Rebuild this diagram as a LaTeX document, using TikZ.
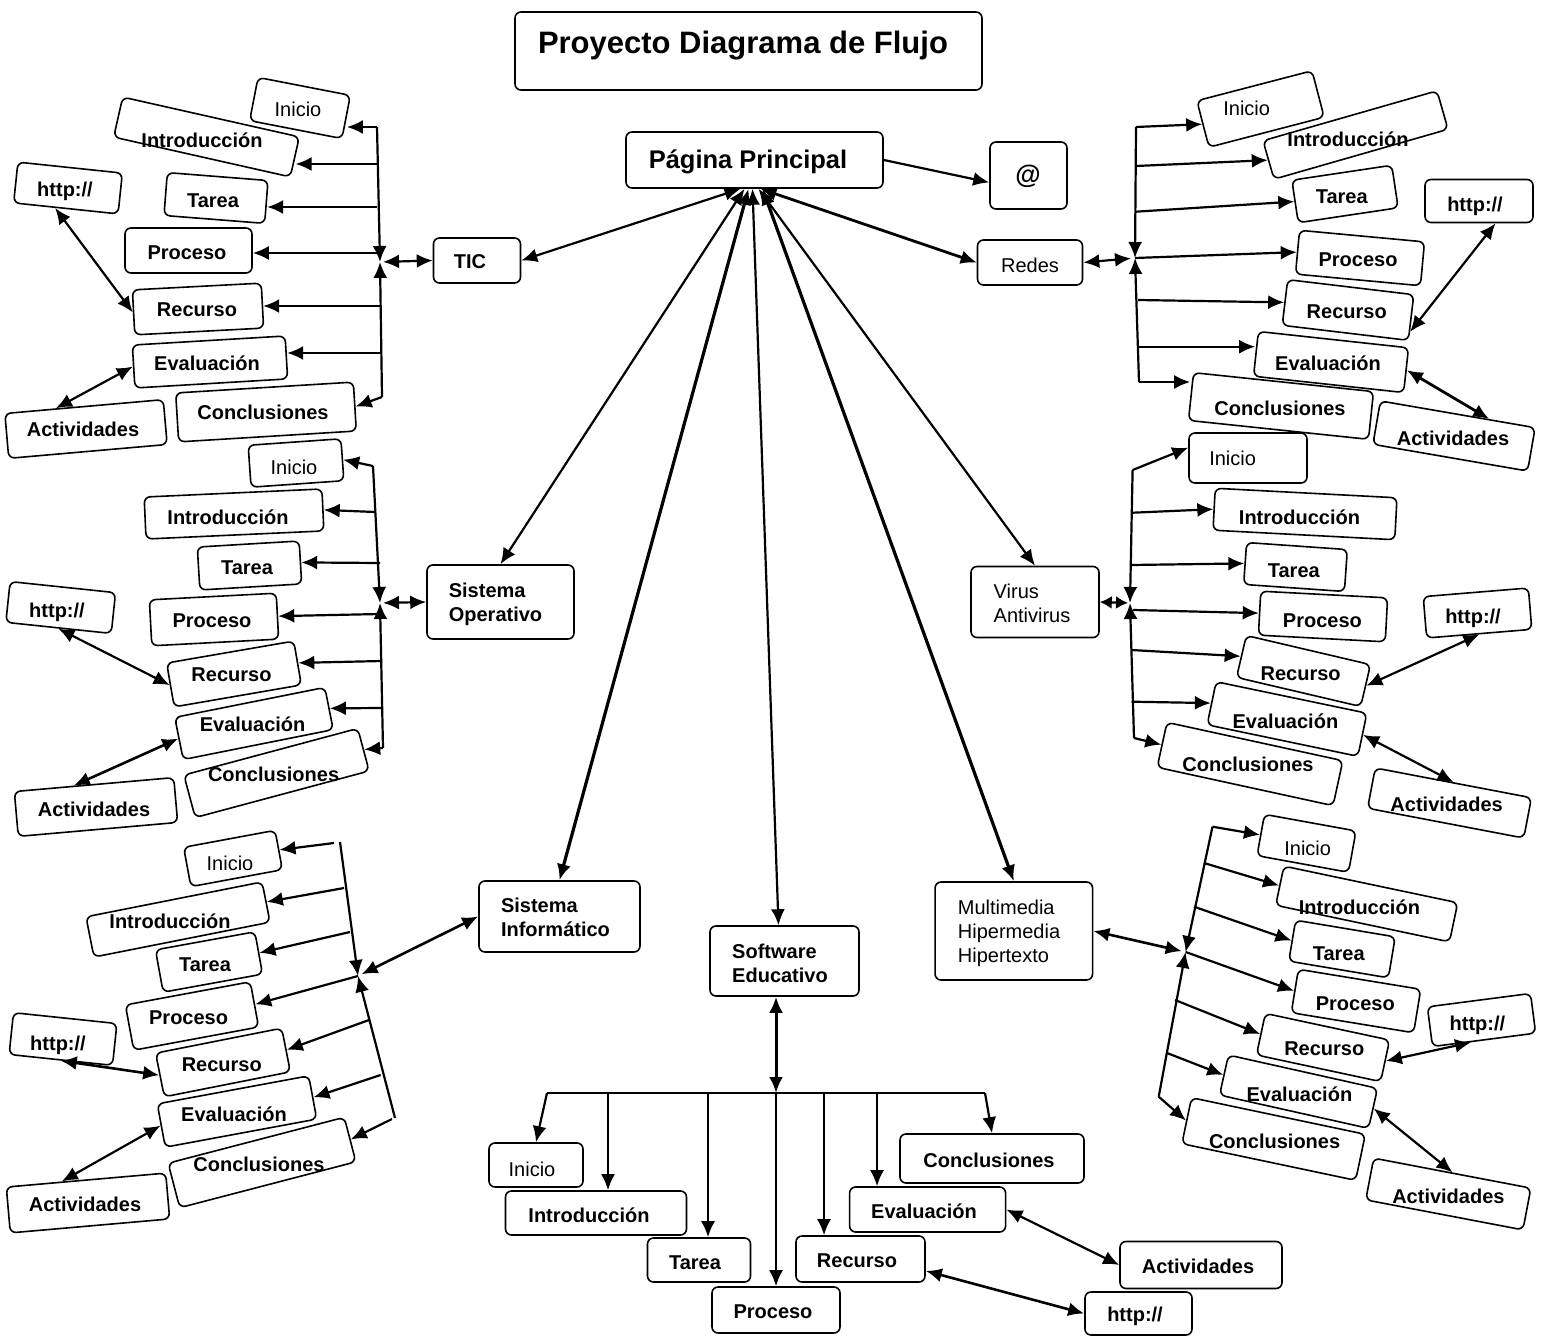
\documentclass[tikz,border=0pt]{standalone}
\usepackage{fontspec}
\setmainfont{Liberation Sans}
\usetikzlibrary{arrows.meta,calc}
\tikzset{
 bxs/.style={draw, line width=1.6pt, rounded corners=6pt, inner sep=0pt},
 lbl/.style={font=\bfseries\fontsize{20}{24}\selectfont, anchor=mid, inner sep=0pt, yshift=-4pt},
 lblr/.style={font=\fontsize{20}{24}\selectfont, anchor=mid, inner sep=0pt, yshift=-4pt},
 mlt/.style={font=\bfseries\fontsize{20}{24}\selectfont, anchor=center, align=left, inner sep=0pt},
 mltr/.style={font=\fontsize{20}{24}\selectfont, anchor=center, align=left, inner sep=0pt},
 arr/.style={-{Latex[length=16pt,width=14pt]}, line width=2.2pt},
 darr/.style={{Latex[length=16pt,width=14pt]}-{Latex[length=16pt,width=14pt]}, line width=2.2pt},
 sdarr/.style={{Latex[length=12pt,width=13pt]}-{Latex[length=12pt,width=13pt]}, line width=2.2pt},
 ln/.style={line width=1.8pt}
}
\newcommand{\bxr}[6]{\node[bxs,minimum width=#4pt,minimum height=#5pt,rotate=#6] (#1) at (#2,#3) {};}
\newcommand{\lb}[4]{\node[lbl] (#1) at (#2,#3) {#4};}
\newcommand{\lr}[4]{\node[lblr] (#1) at (#2,#3) {#4};}
\begin{document}
\begin{tikzpicture}[x=1pt,y=-1pt]
\path[use as bounding box, fill=white] (0,0) rectangle (1549,1337);

% ---------- top ----------
\bxr{title}{748.5}{51}{467}{78}{0}
\node[font=\bfseries\fontsize{31}{36}\selectfont, anchor=mid, inner sep=0pt] (title-t) at (743,51) {Proyecto Diagrama de Flujo};
\bxr{pp}{754.5}{160}{257}{56}{0}
\node[font=\bfseries\fontsize{25.5}{30}\selectfont, anchor=mid, inner sep=0pt] (pp-t) at (748,166) {Página Principal};
\bxr{at}{1028.5}{175.5}{77}{67}{0}
\node[font=\bfseries\fontsize{26}{30}\selectfont, anchor=mid, inner sep=0pt] (at-t) at (1028,181) {@};
\draw[arr] (pp.east) -- (at.190);

% ---------- TIC group ----------
\bxr{tic}{477}{260.5}{87}{45}{0}
\lb{tic-t}{470}{262}{TIC}
\bxr{tic-in}{300}{108}{94}{44}{-11}
\lr{tic-in-t}{298}{110}{Inicio}
\bxr{tic-intro}{206.5}{137}{181}{41}{-12.7}
\lb{tic-intro-t}{202}{141}{Introducción}
\bxr{tic-ta}{216}{198}{101}{43}{-4.5}
\lb{tic-ta-t}{213}{201}{Tarea}
\bxr{tic-pr}{188.5}{250.5}{127}{45}{0}
\lb{tic-pr-t}{187}{253}{Proceso}
\bxr{tic-re}{198}{309}{129}{45}{3}
\lb{tic-re-t}{197}{310}{Recurso}
\bxr{tic-ev}{210}{362}{153}{43}{3.4}
\lb{tic-ev-t}{207}{364}{Evaluación}
\bxr{tic-co}{266}{412}{178}{49}{3.5}
\lb{tic-co-t}{263}{413}{Conclusiones}
\bxr{tic-http}{68}{188}{105}{41}{-6}
\lb{tic-http-t}{65}{190}{http://}
\bxr{tic-ac}{86}{429}{159}{45}{5}
\lb{tic-ac-t}{83}{430}{Actividades}

\coordinate (tA) at (377,127);
\coordinate (tHub) at (380,262);
\coordinate (tB) at (382,397);
\coordinate (t2) at (377,164);
\coordinate (t3) at (377,207);
\coordinate (t4) at (378,253);
\coordinate (t5) at (381,306);
\coordinate (t6) at (381,353);
\draw[arr] (tA) -- (tHub);
\draw[arr] (tB) -- (tHub);
\draw[arr] (tA) -- (tA -| tic-in.east);
\draw[arr] (t2) -- (t2 -| tic-intro.east);
\draw[arr] (t3) -- (t3 -| tic-ta.east);
\draw[arr] (t4) -- (t4 -| tic-pr.east);
\draw[arr] (t5) -- (t5 -| tic-re.east);
\draw[arr] (t6) -- (t6 -| tic-ev.east);
\draw[arr] (tB) -- (tic-co.east);
\draw[darr, shorten <=3pt] (tHub) -- (tic.west);
\draw[darr] ($(tic-http.south)!0.2!(tic-http.south west)$) -- (tic-re.west);
\draw[darr] ($(tic-ac.north)!0.35!(tic-ac.north west)$) -- (tic-ev.west);

% ---------- Sistema Operativo group ----------
\bxr{so}{500.5}{602}{147}{74}{0}
\node[mlt] (so-t) at (495.5,604) {Sistema\\Operativo};
\bxr{so-in}{296}{463}{93}{42}{4}
\lr{so-in-t}{294}{468}{Inicio}
\bxr{so-intro}{234}{514}{178}{42}{2.6}
\lb{so-intro-t}{228}{518}{Introducción}
\bxr{so-ta}{249.5}{565.5}{102}{43}{3.4}
\lb{so-ta-t}{247}{568}{Tarea}
\bxr{so-pr}{214}{619.5}{127}{46}{3}
\lb{so-pr-t}{212}{621}{Proceso}
\bxr{so-re}{234}{674}{129}{44.5}{9.8}
\lb{so-re-t}{231.5}{675}{Recurso}
\bxr{so-ev}{254}{723.5}{153}{43}{11.3}
\lb{so-ev-t}{252.6}{725}{Evaluación}
\bxr{so-co}{276.5}{773}{180}{44}{15}
\lb{so-co-t}{273.6}{775}{Conclusiones}
\bxr{so-http}{60.7}{607.5}{106}{41}{-6}
\lb{so-http-t}{57}{611}{http://}
\bxr{so-ac}{96}{807}{160}{45}{5}
\lb{so-ac-t}{94}{810}{Actividades}

\coordinate (sA) at (373,466);
\coordinate (sHub) at (380,603);
\coordinate (sB) at (383,748);
\coordinate (s2) at (375,512);
\coordinate (s3) at (380,563);
\coordinate (s4) at (380,614);
\coordinate (s5) at (382,661);
\coordinate (s6) at (382,708);
\draw[arr] (sA) -- (sHub);
\draw[arr] (sB) -- (sHub);
\draw[arr] (sA) -- (so-in.east);
\draw[arr] (s2) -- (so-intro.east);
\draw[arr] (s3) -- (so-ta.east);
\draw[arr] (s4) -- (so-pr.east);
\draw[arr] (s5) -- (so-re.east);
\draw[arr] (s6) -- (so-ev.east);
\draw[arr] (sB) -- (so-co.east);
\draw[darr, shorten <=3pt] (sHub) -- (so.west);
\draw[darr] (so-http.south) -- (so-re.west);
\draw[darr, line width=2.6pt] ($(so-ac.north)!0.25!(so-ac.north west)$) -- (so-ev.west);

% ---------- Sistema Informatico group ----------
\bxr{si}{559.5}{916.5}{161}{71}{0}
\node[mlt] (si-t) at (555.5,917) {Sistema\\Informático};
\bxr{si-in}{233}{858.5}{93}{40}{10.5}
\lr{si-in-t}{230}{864}{Inicio}
\bxr{si-intro}{178}{919.5}{179.5}{41}{11.2}
\lb{si-intro-t}{170}{922}{Introducción}
\bxr{si-ta}{209}{962}{101}{43}{10.3}
\lb{si-ta-t}{205}{965}{Tarea}
\bxr{si-pr}{192}{1016}{127}{46}{10.5}
\lb{si-pr-t}{188.6}{1018}{Proceso}
\bxr{si-re}{223}{1062.5}{128.5}{44.5}{11.2}
\lb{si-re-t}{221.8}{1065}{Recurso}
\bxr{si-ev}{237}{1111.5}{154}{44}{10.5}
\lb{si-ev-t}{234}{1115}{Evaluación}
\bxr{si-co}{262}{1162.5}{182}{46}{14.6}
\lb{si-co-t}{259}{1165}{Conclusiones}
\bxr{si-http}{63}{1039}{104}{42}{-6}
\lb{si-http-t}{58}{1044}{http://}
\bxr{si-ac}{88}{1203}{160}{46}{5}
\lb{si-ac-t}{85}{1205}{Actividades}

\coordinate (iA) at (340,842);
\coordinate (iHub) at (358,976);
\coordinate (iB) at (395,1118);
\coordinate (i1) at (334,843);
\coordinate (i2) at (344,888);
\coordinate (i3) at (350,932);
\coordinate (i5) at (369,1020);
\coordinate (i6) at (380.6,1075);
\coordinate (i7) at (392,1119);
\draw[arr] (iA) -- (iHub);
\draw[arr] (iB) -- (iHub);
\draw[arr] (i1) -- (si-in.east);
\draw[arr] (i2) -- (si-intro.east);
\draw[arr] (i3) -- (si-ta.east);
\draw[arr] (iHub) -- (si-pr.east);
\draw[arr] (i5) -- (si-re.east);
\draw[arr] (i6) -- (si-ev.east);
\draw[arr] (i7) -- (si-co.east);
\draw[darr, line width=2.6pt, shorten <=4pt] (iHub) -- (si.west);
\draw[darr, line width=2.6pt] (si-http.south) -- (si-re.west);
\draw[darr] ($(si-ac.north)!0.3!(si-ac.north west)$) -- (si-ev.west);

% ---------- Software Educativo group ----------
\bxr{se}{784.5}{961}{149}{70}{0}
\node[mlt] (se-t) at (780,963) {Software\\Educativo};
\bxr{se-in}{536}{1165}{94}{44}{0}
\lr{se-in-t}{532}{1170}{Inicio}
\bxr{se-intro}{596}{1213}{181}{44}{0}
\lb{se-intro-t}{589}{1216}{Introducción}
\bxr{se-ta}{699}{1260}{103}{44}{0}
\lb{se-ta-t}{695}{1263}{Tarea}
\bxr{se-pr}{776}{1310}{128}{46}{0}
\lb{se-pr-t}{773}{1312}{Proceso}
\bxr{se-re}{860.5}{1259}{129}{46}{0}
\lb{se-re-t}{857}{1261}{Recurso}
\bxr{se-ev}{927.6}{1209.5}{156}{45}{0}
\lb{se-ev-t}{924}{1212}{Evaluación}
\bxr{se-co}{992}{1158.5}{184}{49}{0}
\lb{se-co-t}{989}{1161}{Conclusiones}
\bxr{se-ac}{1201}{1265}{162}{47}{0}
\lb{se-ac-t}{1198}{1267}{Actividades}
\bxr{se-http}{1138.5}{1313.5}{107}{43}{0}
\lb{se-http-t}{1135}{1315}{http://}

\coordinate (eL) at (547,1093);
\coordinate (eR) at (985,1093);
\coordinate (eM) at (776,1093);
\coordinate (e2) at (608,1093);
\coordinate (e3) at (708,1093);
\coordinate (e5) at (824,1093);
\coordinate (e6) at (877,1093);
\draw[ln] (eL) -- (eR);
\draw[darr, line width=3pt] (se.south -| eM) -- (eM);
\draw[arr] (eL) -- (se-in.north);
\draw[arr] (e2) -- (e2 |- se-intro.north);
\draw[arr] (e3) -- (e3 |- se-ta.north);
\draw[arr] (eM) -- (eM |- se-pr.north);
\draw[arr] (e5) -- (e5 |- se-re.north);
\draw[arr] (e6) -- (e6 |- se-ev.north);
\draw[arr] (eR) -- (se-co.north);
\draw[darr, line width=2.6pt] ($(se-re.east)!0.5!(se-re.south east)$) -- (se-http.west);
\draw[darr] (se-ev.east) -- (se-ac.west);

% ---------- Redes group ----------
\bxr{redes}{1030}{262.5}{105}{45}{0}
\lr{redes-t}{1030}{266}{Redes}
\bxr{re-in}{1260.5}{109}{119}{48}{14.6}
\lr{re-in-t}{1246.7}{109}{Inicio}
\bxr{re-intro}{1355.5}{135}{181}{40}{16}
\lb{re-intro-t}{1348}{140}{Introducción}
\bxr{re-ta}{1345}{194}{101}{43}{8.5}
\lb{re-ta-t}{1341.7}{197}{Tarea}
\bxr{re-pr}{1360}{258}{125.5}{44}{-5.3}
\lb{re-pr-t}{1358}{260}{Proceso}
\bxr{re-re}{1348}{310}{127}{46}{-6.8}
\lb{re-re-t}{1346.7}{312}{Recurso}
\bxr{re-ev}{1331}{362}{151}{45}{-6.2}
\lb{re-ev-t}{1328}{364}{Evaluación}
\bxr{re-co}{1281}{406}{181}{48}{-6}
\lb{re-co-t}{1280}{409}{Conclusiones}
\bxr{re-http}{1479}{201}{108}{43}{0}
\lb{re-http-t}{1475}{205}{http://}
\bxr{re-ac}{1454}{436}{157}{44}{-9.8}
\lb{re-ac-t}{1453}{439}{Actividades}

\coordinate (rA) at (1136,127);
\coordinate (rHub) at (1135,258);
\coordinate (rB) at (1139,382);
\coordinate (r2) at (1136,166);
\coordinate (r3) at (1136,211.7);
\coordinate (r5) at (1138,300);
\coordinate (r6) at (1139,346.7);
\draw[arr] (rA) -- (rHub);
\draw[arr] (rB) -- (rHub);
\draw[arr] (rA) -- (re-in.west);
\draw[arr] (r2) -- (re-intro.west);
\draw[arr] (r3) -- (re-ta.west);
\draw[arr] (rHub) -- (re-pr.west);
\draw[arr] (r5) -- (re-re.west);
\draw[arr] (r6) -- (r6 -| re-ev.west);
\draw[arr] (rB) -- (rB -| re-co.west);
\draw[darr, shorten >=4pt] (redes.east) -- (rHub);
\draw[darr] ($(re-http.south)!0.3!(re-http.south east)$) -- ($(re-re.east)!0.6!(re-re.south east)$);
\draw[darr, line width=2.8pt] (re-ev.east) -- ($(re-ac.north)!0.4!(re-ac.north east)$);

% ---------- Virus group ----------
\bxr{virus}{1035}{602}{128}{71}{0}
\node[mltr] (virus-t) at (1032,603) {Virus\\Antivirus};
\bxr{vi-in}{1248}{458}{118}{50}{0}
\lr{vi-in-t}{1232.6}{459}{Inicio}
\bxr{vi-intro}{1305}{514}{182}{42}{-3}
\lb{vi-intro-t}{1299.5}{518}{Introducción}
\bxr{vi-ta}{1295.5}{567}{101}{42}{-4}
\lb{vi-ta-t}{1293.8}{571}{Tarea}
\bxr{vi-pr}{1323}{616.5}{127}{44}{-3}
\lb{vi-pr-t}{1322.4}{621}{Proceso}
\bxr{vi-re}{1303.5}{671}{127.5}{43}{-13.2}
\lb{vi-re-t}{1300.6}{674}{Recurso}
\bxr{vi-ev}{1287}{719}{154}{44}{-11.8}
\lb{vi-ev-t}{1285.4}{722}{Evaluación}
\bxr{vi-co}{1250}{764}{180}{46}{-12.3}
\lb{vi-co-t}{1248}{765}{Conclusiones}
\bxr{vi-http}{1477.5}{613}{105.5}{41.5}{4.7}
\lb{vi-http-t}{1473}{617}{http://}
\bxr{vi-ac}{1449.5}{803}{159}{41}{-10.8}
\lb{vi-ac-t}{1446.6}{805}{Actividades}

\coordinate (vA) at (1132.6,470);
\coordinate (vHub) at (1130,603);
\coordinate (vB) at (1134,738);
\coordinate (v2) at (1133,512.7);
\coordinate (v3) at (1131,565);
\coordinate (v4) at (1133,610);
\coordinate (v5) at (1131.5,650);
\coordinate (v6) at (1131.5,701.7);
\draw[arr] (vA) -- (vHub);
\draw[arr] (vB) -- (vHub);
\draw[arr] (vA) -- ($(vi-in.west)!0.4!(vi-in.north west)$);
\draw[arr] (v2) -- (vi-intro.west);
\draw[arr] (v3) -- (vi-ta.west);
\draw[arr] (v4) -- (vi-pr.west);
\draw[arr] (v5) -- (vi-re.west);
\draw[arr] (v6) -- (vi-ev.west);
\draw[arr] (vB) -- (vi-co.west);
\draw[sdarr, shorten >=2pt] (virus.east) -- (vHub);
\draw[darr] (vi-http.south) -- (vi-re.east);
\draw[darr] (vi-ev.east) -- (vi-ac.north);

% ---------- Multimedia group ----------
\bxr{mm}{1013.8}{931}{157.5}{98}{0}
\node[mltr] (mm-t) at (1009,933) {Multimedia\\Hipermedia\\Hipertexto};
\bxr{mm-in}{1306.5}{843.3}{93}{42}{-10.3}
\lr{mm-in-t}{1307.7}{849}{Inicio}
\bxr{mm-intro}{1366.7}{904}{177.6}{40}{-11.9}
\lb{mm-intro-t}{1359.4}{908}{Introducción}
\bxr{mm-ta}{1342}{949}{101}{41.5}{-9.5}
\lb{mm-ta-t}{1338.7}{954}{Tarea}
\bxr{mm-pr}{1356}{1001}{124}{44}{-9.3}
\lb{mm-pr-t}{1355.3}{1004}{Proceso}
\bxr{mm-re}{1323}{1047.5}{127}{42.5}{-12.1}
\lb{mm-re-t}{1324.3}{1049}{Recurso}
\bxr{mm-ev}{1298.5}{1091.7}{152.7}{41}{-12.6}
\lb{mm-ev-t}{1299.4}{1095}{Evaluación}
\bxr{mm-co}{1273.6}{1139}{177.6}{47}{-11.9}
\lb{mm-co-t}{1274.6}{1142}{Conclusiones}
\bxr{mm-http}{1481.5}{1020}{104}{40}{7.4}
\lb{mm-http-t}{1477.4}{1024}{http://}
\bxr{mm-ac}{1448.3}{1194}{160}{42.5}{-10.8}
\lb{mm-ac-t}{1448.4}{1197}{Actividades}

\coordinate (mA) at (1212.5,826.7);
\coordinate (mHub) at (1185.6,952);
\coordinate (mB) at (1158.7,1096.7);
\coordinate (m2) at (1204,863);
\coordinate (m3) at (1194,906.7);
\coordinate (m5) at (1175,1000);
\coordinate (m6) at (1167,1053);
\draw[arr] (mA) -- (mHub);
\draw[arr] (mB) -- (mHub);
\draw[arr] (mA) -- (mm-in.west);
\draw[arr] (m2) -- (mm-intro.west);
\draw[arr] (m3) -- (mm-ta.west);
\draw[arr] (mHub) -- (mm-pr.west);
\draw[arr] (m5) -- (mm-re.west);
\draw[arr] (m6) -- (mm-ev.west);
\draw[arr] (mB) -- (mm-co.west);
\draw[darr, line width=2.6pt, shorten >=4pt] (mm.east) -- (mHub);
\draw[darr] ($(mm-http.south)!0.25!(mm-http.south west)$) -- (mm-re.east);
\draw[darr] (mm-ev.east) -- (mm-ac.north);

% ---------- links from Pagina Principal ----------
\draw[darr] ($(pp.south)+(-14,0)$) -- (tic.east);
\draw[darr] ($(pp.south)+(-10,0)$) -- (so.north);
\draw[darr, line width=3.2pt] ($(pp.south)+(-6,0)$) -- (si.north);
\draw[darr] ($(pp.south)+(-2,0)$) -- ($(se.north)+(-6,0)$);
\draw[darr] ($(pp.south)+(4,0)$) -- (virus.north);
\draw[darr, line width=3.2pt] ($(pp.south)+(8,0)$) -- (mm.north);
\draw[darr, line width=2.8pt] ($(pp.south)+(6,0)$) -- (redes.west);
\end{tikzpicture}
\end{document}
